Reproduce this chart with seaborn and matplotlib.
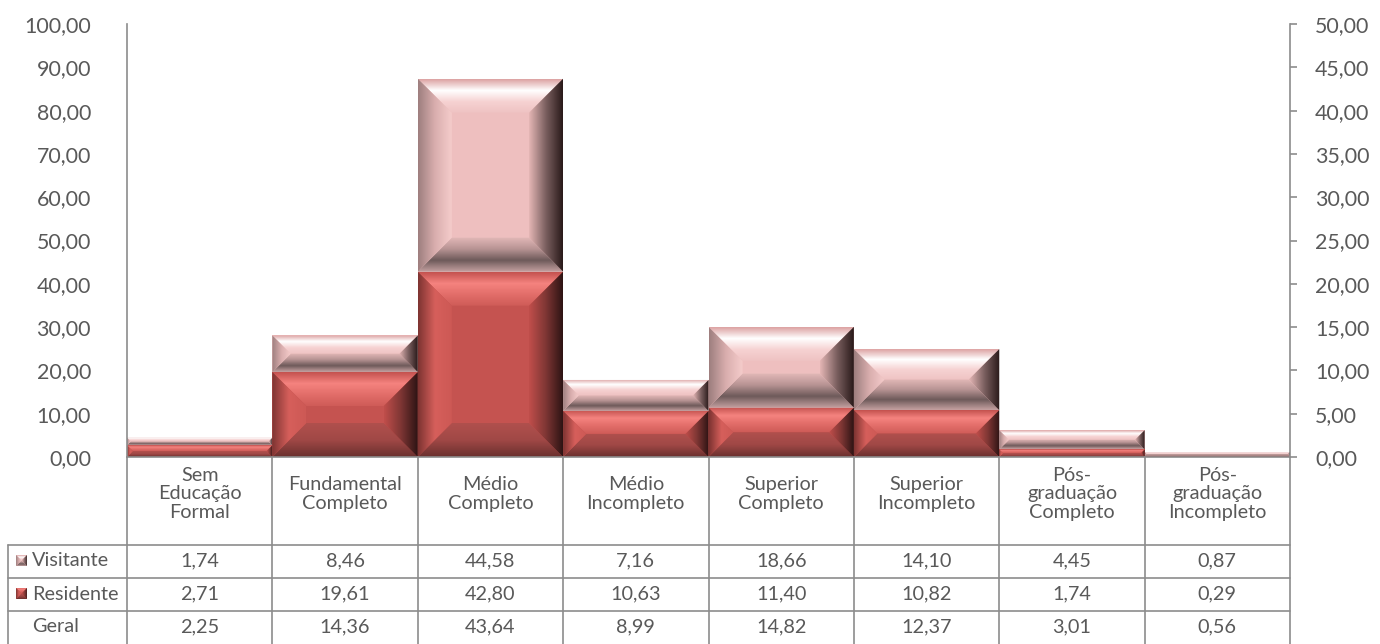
import numpy as np
import pandas as pd
import matplotlib
matplotlib.use("Agg")
import matplotlib.pyplot as plt
from matplotlib.patches import Polygon
from matplotlib.colors import LinearSegmentedColormap
import seaborn as sns

# ---- data -------------------------------------------------------------
categorias = ["Sem\nEducação\nFormal", "Fundamental\nCompleto", "Médio\nCompleto",
              "Médio\nIncompleto", "Superior\nCompleto", "Superior\nIncompleto",
              "Pós-\ngraduação\nCompleto", "Pós-\ngraduação\nIncompleto"]
visitante = [1.74, 8.46, 44.58, 7.16, 18.66, 14.10, 4.45, 0.87]
residente = [2.71, 19.61, 42.80, 10.63, 11.40, 10.82, 1.74, 0.29]
geral = [2.25, 14.36, 43.64, 8.99, 14.82, 12.37, 3.01, 0.56]
series_nomes = ["Visitante", "Residente", "Geral"]
y_ticks_esq = np.arange(0, 101, 10)
y_ticks_dir = np.arange(0, 51, 5)

df = pd.DataFrame({"categoria": categorias, "Visitante": visitante,
                   "Residente": residente, "Geral": geral})
df["total"] = df["Visitante"] + df["Residente"]

def fmt(v):
    return f"{v:.2f}".replace(".", ",")

sns.set_theme(style="white")
plt.rcParams["font.family"] = ["Lato", "DejaVu Sans"]
TXT = "#595959"
LINE = "#8C8C8C"

W, H = 1380, 644
fig = plt.figure(figsize=(W / 100, H / 100), dpi=100)

def fx(px):
    return px / W

def fy(py):
    return 1 - py / H

L, R, T, B = 127, 1290, 24, 457
ax = fig.add_axes([fx(L), fy(B), fx(R - L), (B - T) / H])

# stacked columns: full height first, then the resident part
sns.barplot(data=df, x="categoria", y="total", color="#EEBFBF", width=1.0,
            ax=ax, errorbar=None)
sns.barplot(data=df, x="categoria", y="Residente", color="#C55350", width=1.0,
            ax=ax, errorbar=None)
ax.set_xlim(-0.5, len(categorias) - 0.5)
ax.set_ylim(0, 100)

n = len(categorias)
tot_patches = ax.patches[:n]
res_patches = ax.patches[n:2 * n]

PAL_VIS = dict(center="#EEBFBF",
               top=["#DDA3A3", "#FFFFFF", "#F6D2D2", "#EFC3C3"],
               left=["#9E7F7F", "#D9AEAE", "#F5CCCB"],
               right=["#2A1A1A", "#7A5F5F", "#E3B5B4"],
               bottom=["#C4A0A0", "#6E5A5A", "#B89494", "#E2B8B7"])
PAL_RES = dict(center="#C55350",
               top=["#C4524F", "#F5837F", "#E26D69", "#CF5C58"],
               left=["#7E3432", "#D65F5B", "#CD5955"],
               right=["#2E1414", "#7E3634", "#C04E4B"],
               bottom=["#6A302E", "#A04846", "#B0504D"])

px_x = (R - L) / n          # pixels per category
px_y = (B - T) / 100.0      # pixels per unit


def grad_fill(target, poly_xy, extent, colors, direction, transform=None):
    """Fill a polygon with a linear gradient running from its outer edge inward."""
    cmap = LinearSegmentedColormap.from_list("g", colors)
    g = np.linspace(0, 1, 64)
    if direction in ("down", "up"):
        arr = g[:, None]
        if direction == "up":
            arr = arr[::-1]
    else:
        arr = g[None, :]
        if direction == "left":
            arr = arr[:, ::-1]
    kw = {}
    if transform is not None:
        kw["transform"] = transform
    poly = Polygon(poly_xy, closed=True, facecolor="none", edgecolor="none", **kw)
    target.add_patch(poly)
    im = target.imshow(arr, cmap=cmap, extent=extent, aspect="auto",
                       interpolation="bilinear", origin="upper", zorder=3, **kw)
    im.set_clip_path(poly)


def bevel(target, x0, y0, w, h, bx, by, pal, transform=None):
    x1, y1 = x0 + w, y0 + h
    kw = {}
    if transform is not None:
        kw["transform"] = transform
    target.add_patch(Polygon([(x0, y0), (x1, y0), (x1, y1), (x0, y1)], closed=True,
                             facecolor=pal["center"], edgecolor="none", zorder=2, **kw))
    ix0, ix1, iy0, iy1 = x0 + bx, x1 - bx, y0 + by, y1 - by
    grad_fill(target, [(x0, y1), (x1, y1), (ix1, iy1), (ix0, iy1)],
              (x0, x1, iy1, y1), pal["top"], "down", transform)
    grad_fill(target, [(x0, y0), (x1, y0), (ix1, iy0), (ix0, iy0)],
              (x0, x1, y0, iy0), pal["bottom"], "up", transform)
    grad_fill(target, [(x0, y0), (ix0, iy0), (ix0, iy1), (x0, y1)],
              (x0, ix0, y0, y1), pal["left"], "right", transform)
    grad_fill(target, [(x1, y0), (ix1, iy0), (ix1, iy1), (x1, y1)],
              (ix1, x1, y0, y1), pal["right"], "left", transform)


BEV = 34.0
for pt, pr in zip(tot_patches, res_patches):
    x0 = pt.get_x()
    w = pt.get_width()
    h_res = pr.get_height()
    h_tot = pt.get_height()
    pt.set_visible(False)
    pr.set_visible(False)
    for y0, h, pal in [(0.0, h_res, PAL_RES), (h_res, h_tot - h_res, PAL_VIS)]:
        if h <= 0:
            continue
        b = min(BEV, w * px_x / 2, h * px_y / 2)
        bevel(ax, x0, y0, w, h, b / px_x, b / px_y, pal)

ax.set_xlim(-0.5, n - 0.5)
ax.set_ylim(0, 100)

TICK_FS = 15.4
# left axis
ax.set_yticks(y_ticks_esq)
ax.set_yticklabels([fmt(v) for v in y_ticks_esq], fontsize=TICK_FS, color=TXT)
ax.tick_params(axis="y", length=0, pad=26)
ax.set_xticks([])
ax.set_xlabel("")
ax.set_ylabel("")
for s in ["top", "right"]:
    ax.spines[s].set_visible(False)
for s in ["left", "bottom"]:
    ax.spines[s].set_color(LINE)
    ax.spines[s].set_linewidth(1.2)
    ax.spines[s].set_zorder(5)

# secondary axis
ax2 = ax.twinx()
ax2.set_ylim(0, 50)
ax2.set_yticks(y_ticks_dir)
ax2.set_yticklabels([fmt(v) for v in y_ticks_dir], fontsize=TICK_FS, color=TXT)
ax2.tick_params(axis="y", length=5, width=1.2, color=LINE, pad=13)
for s in ["top", "left", "bottom"]:
    ax2.spines[s].set_visible(False)
ax2.spines["right"].set_color(LINE)
ax2.spines["right"].set_linewidth(1.2)
ax2.grid(False)
ax.grid(False)

# ---- data table ----------------------------------------------------------
lw = 1.2
row_edges = [B, 545, 578, 611, H + 2]
col_edges = [L + i * px_x for i in range(n + 1)]
LBL_X0 = 8
TAB_FS = 14.3

for cx in col_edges:
    fig.add_artist(plt.Line2D([fx(cx), fx(cx)], [fy(B), fy(H + 2)],
                              color=LINE, lw=lw, transform=fig.transFigure))
fig.add_artist(plt.Line2D([fx(LBL_X0), fx(LBL_X0)], [fy(545), fy(H + 2)],
                          color=LINE, lw=lw, transform=fig.transFigure))
for ry in row_edges[1:4]:
    fig.add_artist(plt.Line2D([fx(LBL_X0), fx(R)], [fy(ry), fy(ry)],
                              color=LINE, lw=lw, transform=fig.transFigure))

for i, c in enumerate(categorias):
    cxm = (col_edges[i] + col_edges[i + 1]) / 2
    fig.text(fx(cxm), fy(494), c, ha="center", va="center", fontsize=TAB_FS,
             color=TXT, linespacing=1.1)

rows = [visitante, residente, geral]
row_centers = [561, 594, 627]
for name, vals, ry in zip(series_nomes, rows, row_centers):
    fig.text(fx(32), fy(ry), name, ha="left", va="center", fontsize=TAB_FS, color=TXT)
    for i, v in enumerate(vals):
        cxm = (col_edges[i] + col_edges[i + 1]) / 2
        fig.text(fx(cxm), fy(ry), fmt(v), ha="center", va="center",
                 fontsize=TAB_FS, color=TXT)

# legend keys drawn as small bevelled squares
for pal, ry in [(PAL_VIS, 561), (PAL_RES, 594)]:
    kax = fig.add_axes([fx(16), fy(ry + 5), fx(11), 11 / H])
    kax.set_xlim(0, 1)
    kax.set_ylim(0, 1)
    kax.axis("off")
    bevel(kax, 0, 0, 1, 1, 0.5, 0.5, pal)
    kax.set_xlim(0, 1)
    kax.set_ylim(0, 1)

fig.savefig("out.png", dpi=100)
